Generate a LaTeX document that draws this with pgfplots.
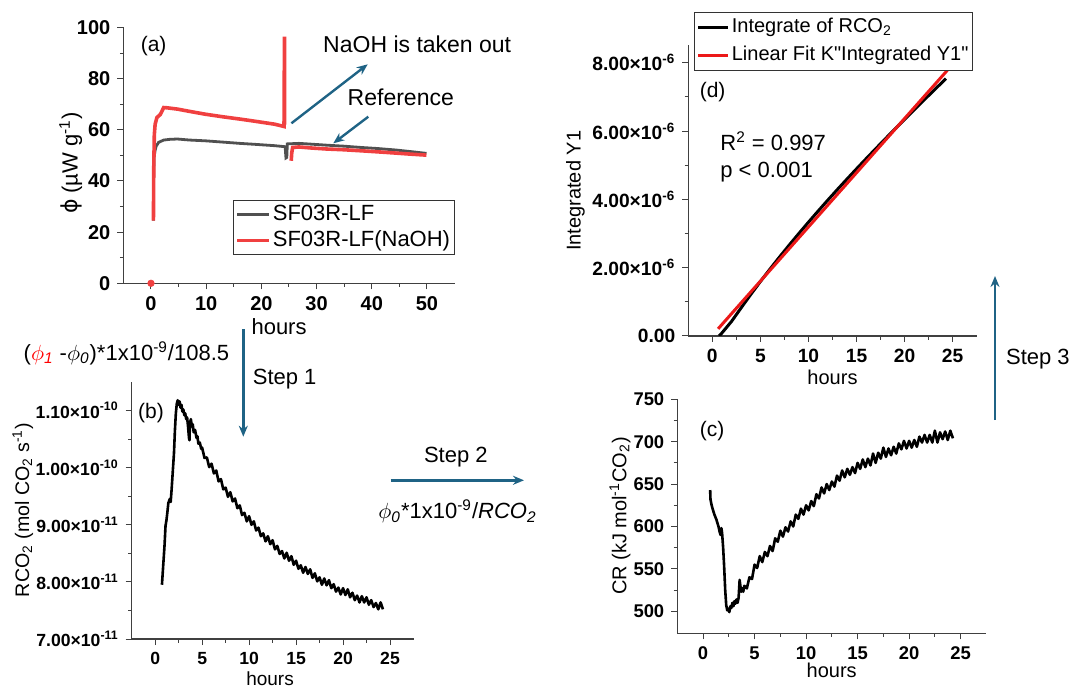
\documentclass[border=0pt]{standalone}
\usepackage{pgfplots}
\pgfplotsset{compat=1.18}
\usepackage{fontspec}
\setmainfont{Liberation Sans}[Ligatures=TeXOff]
\newfontfamily\dejavu{DejaVu Sans}
\usetikzlibrary{arrows.meta}

\definecolor{stepblue}{RGB}{31,99,133}
\definecolor{refgray}{RGB}{80,80,80}
\definecolor{naohred}{RGB}{240,64,64}
\definecolor{fitred}{RGB}{236,24,24}

\newcommand{\fsz}[1]{\fontsize{#1}{#1}\selectfont}

\pgfplotsset{
  originstyle/.style={
    scale only axis,
    anchor=south west,
    axis lines=left,
    axis line style={-, black!75, line width=0.6pt},
    tick align=outside,
    tick style={black!75, line width=0.5pt},
    major tick length=3pt,
    minor tick length=1.8pt,
    minor tick num=1,
    /pgf/number format/assume math mode=true,
    xlabel style={anchor=center},
    ylabel style={anchor=center},
    legend cell align=left,
    legend image code/.code={\draw[#1] (0pt,0pt) -- (16pt,0pt);},
  },
}
\tikzset{arr/.style={stepblue, line width=1.2pt, -{Stealth[length=5.5pt,width=4.5pt]}}}

\begin{document}
\begin{tikzpicture}
\path[use as bounding box] (0,0) rectangle (536pt,343.5pt);

% (a) heat flow
\begin{axis}[originstyle,
  at={(61.7pt,201.85pt)}, width=165.6pt, height=127.9pt,
  xmin=-5, xmax=55, ymin=0, ymax=100,
  xtick={0,10,...,50}, ytick={0,20,...,100},
  clip=false,
  tick label style={font=\bfseries\fsz{10}},
  xlabel={hours}, ylabel={{\dejavu ϕ} (µW g\textsuperscript{-1})},
  xlabel style={font=\fsz{11}, at={(axis description cs:0.47,-0.171)}},
  ylabel style={font=\fsz{11}, at={(axis description cs:-0.159,0.47)}},
  legend style={at={(1.0,0.326)}, anchor=north east, draw=black!80,
    line width=0.5pt, inner xsep=1pt, inner ysep=0.5pt, font=\fsz{11},
    nodes={inner sep=1pt, text height=8.5pt, text depth=2.5pt}},
]
\addplot[refgray, line width=1.4pt] coordinates {
 (0.44,24.5) (0.46,40) (0.55,49.2) (0.75,52) (0.94,53.6) (1.38,55.1) (2.3,56.0)
 (3.5,56.3) (4.8,56.4) (7,56.0) (9.85,55.7) (13,55.2) (16.1,54.7) (19,54.3)
 (22.4,53.8) (24.3,53.4) (24.45,49.0) (24.6,49.2) (24.7,54.5) (26.8,54.7)
 (29,54.4) (31.8,54.0) (35,53.6) (38.1,53.1) (41,52.7) (44.4,52.1) (47,51.5)
 (49.9,50.8)
};
\addlegendentry{SF03R-LF}
\addplot[naohred, line width=1.8pt] coordinates {
 (0.44,24.5) (0.5,45) (0.6,58) (0.75,62.2) (1.07,64.8) (1.69,66.0) (2.3,68.7)
 (2.95,68.6) (4.8,68.1) (7,67.2) (9.85,66.1) (13,65.1) (16.1,64.2) (19,63.3)
 (22.4,62.2) (24.1,61.3) (24.18,96.4) (24.22,62.0)
};
\addlegendentry{SF03R-LF(NaOH)}
\addplot[naohred, line width=1.8pt, forget plot] coordinates {
 (25.4,47.9) (25.5,51) (25.66,53.1) (26.8,53.3) (29,52.9) (31.8,52.5) (35,52.2)
 (38.1,51.8) (41,51.4) (44.4,50.9) (47,50.5) (49.9,50.1)
};
\addplot[naohred, only marks, mark=*, mark size=1.6pt, forget plot] coordinates {(0,0)};
\end{axis}

% (b) RCO2
\begin{axis}[originstyle,
  at={(65.85pt,24pt)}, width=140.9pt, height=128.5pt,
  xmin=-2.5, xmax=27.5, ymin=7, ymax=11.5,
  xtick={0,5,...,25}, ytick={7,8,9,10,11},
  yticklabels={7.00×10\textsuperscript{-11},8.00×10\textsuperscript{-11},9.00×10\textsuperscript{-11},1.00×10\textsuperscript{-10},1.10×10\textsuperscript{-10}},
  tick label style={font=\bfseries\fsz{8.8}},
  xlabel={hours}, ylabel={RCO\textsubscript{2} (mol CO\textsubscript{2} s\textsuperscript{-1})},
  xlabel style={font=\fsz{9.5}, at={(axis description cs:0.491,-0.156)}},
  ylabel style={font=\fsz{9.8}, at={(axis description cs:-0.386,0.502)}},
]
\addplot[black, line width=1.3pt, line join=round] coordinates {
 (0.72,7.95) (0.8,8.15) (0.9,8.40) (1.0,8.65) (1.1,8.98) (1.2,9.08) (1.3,9.22)
 (1.4,9.38) (1.55,9.45) (1.65,9.40) (1.75,9.62) (1.9,10.0) (2.0,10.25) (2.1,10.65)
 (2.2,10.95) (2.3,11.12) (2.4,11.18) (2.5,11.10) (2.6,11.16) (2.7,11.05) (2.8,11.10)
 (2.9,10.98) (3.0,11.02) (3.1,10.92) (3.2,10.95) (3.3,10.85) (3.4,10.88) (3.5,10.72)
 (3.6,10.52) (3.65,10.48) (3.7,10.78) (3.8,10.85) (3.9,10.72) (4.0,10.76) (4.1,10.62)
 (4.25,10.66) (4.4,10.52) (4.5,10.55) (4.6,10.42) (4.75,10.44) (4.9,10.33)
 (5.00,10.35) (5.25,10.17) (5.50,10.18) (5.75,10.01) (6.00,10.07) (6.25,9.90)
 (6.50,9.95) (6.75,9.76) (7.00,9.80) (7.25,9.62) (7.50,9.65) (7.75,9.49)
 (8.00,9.57) (8.25,9.41) (8.50,9.46) (8.75,9.29) (9.00,9.34) (9.25,9.17)
 (9.50,9.21) (9.75,9.06) (10.00,9.15) (10.25,9.00) (10.50,9.06) (10.75,8.90)
 (11.00,8.95) (11.25,8.80) (11.50,8.85) (11.75,8.71) (12.00,8.80) (12.25,8.66)
 (12.50,8.73) (12.75,8.57) (13.00,8.63) (13.25,8.49) (13.50,8.54) (13.75,8.41)
 (14.00,8.51) (14.25,8.37) (14.50,8.45) (14.75,8.30) (15.00,8.37) (15.25,8.23)
 (15.50,8.29) (15.75,8.16) (16.00,8.26) (16.25,8.14) (16.50,8.22) (16.75,8.07)
 (17.00,8.15) (17.25,8.01) (17.50,8.08) (17.75,7.95) (18.00,8.06) (18.25,7.94)
 (18.50,8.03) (18.75,7.89) (19.00,7.96) (19.25,7.83) (19.50,7.90) (19.75,7.78)
 (20.00,7.89) (20.25,7.77) (20.50,7.87) (20.75,7.73) (21.00,7.81) (21.25,7.68)
 (21.50,7.76) (21.75,7.64) (22.00,7.75) (22.25,7.64) (22.50,7.73) (22.75,7.60)
 (23.00,7.68) (23.25,7.56) (23.50,7.63) (23.75,7.52) (24.00,7.64) (24.25,7.52)
};
\end{axis}

% (c) calorespirometric ratio
\begin{axis}[originstyle,
  at={(338.65pt,26.85pt)}, width=154.55pt, height=117pt,
  xmin=-2.5, xmax=27.5, ymin=474, ymax=750,
  xtick={0,5,...,25}, ytick={500,550,...,750},
  tick label style={font=\bfseries\fsz{9.2}},
  xlabel={hours}, ylabel={CR (kJ mol\textsuperscript{-1}CO\textsubscript{2})},
  xlabel style={font=\fsz{10}, at={(axis description cs:0.4995,-0.157)}},
  ylabel style={font=\fsz{10}, at={(axis description cs:-0.185,0.501)}},
]
\addplot[black, line width=1.3pt, line join=round] coordinates {
 (0.69,643) (0.72,632) (0.8,627) (0.9,622) (1.0,618) (1.1,614) (1.2,611) (1.3,608)
 (1.42,603) (1.5,600) (1.6,594) (1.7,590) (1.78,598) (1.85,592) (1.95,575) (2.05,552)
 (2.15,525) (2.25,507) (2.35,501) (2.45,503) (2.55,499) (2.65,506) (2.75,504)
 (2.85,510) (2.95,506) (3.05,512) (3.15,509) (3.25,514) (3.35,510) (3.45,516)
 (3.55,537) (3.62,530) (3.7,523) (3.8,527) (3.9,523)
 (4.00,530) (4.25,527) (4.50,540) (4.75,538) (5.00,555) (5.25,551) (5.50,565)
 (5.75,558) (6.00,570) (6.25,565) (6.50,577) (6.75,571) (7.00,586) (7.25,582)
 (7.50,595) (7.75,588) (8.00,599) (8.25,594) (8.50,606) (8.75,600) (9.00,614)
 (9.25,609) (9.50,621) (9.75,614) (10.00,625) (10.25,619) (10.50,630) (10.75,624)
 (11.00,638) (11.25,633) (11.50,646) (11.75,639) (12.00,650) (12.25,643) (12.50,653)
 (12.75,647) (13.00,660) (13.25,654) (13.50,666) (13.75,658) (14.00,668) (14.25,661)
 (14.50,670) (14.75,663) (15.00,675) (15.25,668) (15.50,679) (15.75,670) (16.00,680)
 (16.25,672) (16.50,686) (16.75,675) (17.00,687) (17.25,680) (17.50,693) (17.75,682)
 (18.00,692) (18.25,684) (18.50,694) (18.75,686) (19.00,698) (19.25,691) (19.50,701)
 (19.75,692) (20.00,701) (20.25,693) (20.50,702) (20.75,694) (21.00,706) (21.25,699)
 (21.50,708) (21.75,699) (22.00,708) (22.25,699) (22.50,713) (22.75,699) (23.00,711)
 (23.25,703) (23.50,712) (23.75,702) (24.00,713) (24.25,704)
};
\end{axis}

% (d) integrated RCO2 with linear fit
\begin{axis}[originstyle,
  at={(344.15pt,175.5pt)}, width=144.2pt, height=145.5pt,
  xmin=-2.5, xmax=27.5, ymin=0, ymax=8.52,
  xtick={0,5,...,25}, ytick={0,2,4,6,8},
  yticklabels={0.00,2.00×10\textsuperscript{-6},4.00×10\textsuperscript{-6},6.00×10\textsuperscript{-6},8.00×10\textsuperscript{-6}},
  tick label style={font=\bfseries\fsz{9.6}},
  xlabel={hours}, ylabel={Integrated Y1},
  xlabel style={font=\fsz{10}, at={(axis description cs:0.5,-0.141)}},
  ylabel style={font=\fsz{10}, at={(axis description cs:-0.391,0.499)}},
  legend style={at={(0.021,1.114)}, anchor=north west, draw=black!80,
    line width=0.5pt, inner xsep=1pt, inner ysep=0.5pt, font=\fsz{10},
    nodes={inner sep=1pt, text height=8.5pt, text depth=3.5pt}},
  legend image code/.code={\draw[#1] (0pt,0pt) -- (15pt,0pt);},
]
\addplot[black, line width=1.5pt] coordinates {
 (0.7,0) (1,0.09) (2,0.428) (3,0.826) (4,1.217) (5,1.595) (6,1.96) (7,2.316)
 (8,2.663) (9,3.001) (10,3.332) (11,3.656) (12,3.974) (13,4.286) (14,4.592)
 (15,4.894) (16,5.191) (17,5.484) (18,5.774) (19,6.061) (20,6.344) (21,6.625)
 (22,6.903) (23,7.179) (24,7.453) (24.3,7.535)
};
\addlegendentry{Integrate of RCO\textsubscript{2}}
\addplot[fitred, line width=1.5pt] coordinates {(0.6,0.21) (24.45,7.78)};
\addlegendentry{Linear Fit K"Integrated Y1"}
\end{axis}

% panel letters and statistics
\node[font=\fsz{10.5}] at (76.8pt,320.5pt) {(a)};
\node[font=\fsz{10.5}] at (75.5pt,137.15pt) {(b)};
\node[font=\fsz{10.5}] at (356pt,128pt) {(c)};
\node[font=\fsz{10.5}] at (356.3pt,297.35pt) {(d)};
\node[font=\fsz{11}, anchor=west, inner sep=0pt] at (360pt,272.65pt) {R\textsuperscript{2} = 0.997};
\node[font=\fsz{11}, anchor=west, inner sep=0pt] at (360pt,257.65pt) {p < 0.001};

% annotations in (a)
\node[font=\fsz{11.5}] at (208.6pt,321.35pt) {NaOH is taken out};
\node[font=\fsz{11.5}] at (200.4pt,294.85pt) {Reference};
\draw[arr] (145.7pt,281.85pt) -- (183.85pt,311.35pt);
\draw[arr] (184.15pt,285.15pt) -- (166.65pt,271.85pt);

% workflow steps
\node[font=\fsz{11}] at (63.2pt,166.85pt)
  {(\textcolor{red}{$\phi_{\mathit{1}}$} -$\phi_{\mathit{0}}$)*1x10\textsuperscript{-9}/108.5};
\draw[arr] (121.65pt,178.85pt) -- (121.65pt,125.15pt);
\node[font=\fsz{11}] at (142.35pt,153.85pt) {Step 1};
\draw[arr] (195.35pt,103.35pt) -- (262pt,103.35pt);
\node[font=\fsz{11}] at (227.9pt,114.85pt) {Step 2};
\node[font=\fsz{11}] at (228.75pt,87.65pt)
  {$\phi_{\mathit{0}}$*1x10\textsuperscript{-9}/\textit{RCO\textsubscript{2}}};
\draw[arr] (497.5pt,133.5pt) -- (497.5pt,205.5pt);
\node[font=\fsz{11}, anchor=west, inner sep=0pt] at (502.85pt,164pt) {Step 3};
\end{tikzpicture}
\end{document}
